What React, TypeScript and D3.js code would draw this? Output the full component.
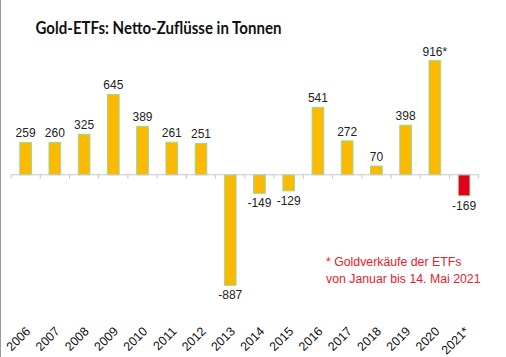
import React from "react";
import * as d3 from "d3";

const years = ["2006","2007","2008","2009","2010","2011","2012","2013","2014","2015","2016","2017","2018","2019","2020","2021*"];
const values = [259,260,325,645,389,261,251,-887,-149,-129,541,272,70,398,916,-169];
const valueLabels = ["259","260","325","645","389","261","251","-887","-149","-129","541","272","70","398","916*","-169"];
const title = "Gold-ETFs: Netto-Zuflüsse in Tonnen";
const footnote = ["* Goldverkäufe der ETFs", "von Januar bis 14. Mai 2021"];

const W = 506, H = 357;

export default function App() {
  const x = d3.scaleBand<string>().domain(years).range([11, 478.7]).paddingInner(0.6).paddingOuter(0.3);
  const y = d3.scaleLinear().domain([-887, 916]).range([285.3, 60.6]);
  const y0 = y(0);
  const boundaries = d3.range(years.length + 1).map(i => 11 + i * (467.7 / years.length));
  return (
    <svg width={W} height={H} style={{ position: "absolute", left: 0, top: 0, background: "#fff" }}>
      <line x1={0.5} x2={0.5} y1={0} y2={H} stroke="#9a9a9a" strokeWidth={1} />
      <text x={35.5} y={34} fontFamily="Lato" fontWeight="bold" fontSize={16.5} textLength={246} lengthAdjust="spacingAndGlyphs" fill="#111">{title}</text>
      {values.map((v, i) => {
        const bx = x(years[i])!;
        const top = v >= 0 ? y(v) : y0;
        const h = Math.abs(y(v) - y0);
        const red = i === values.length - 1;
        return (
          <g key={i}>
            <rect x={bx} y={top} width={x.bandwidth()} height={h} fill={red ? "#E2001A" : "#FBBA00"} stroke="#9ED89A" strokeWidth={1} />
            <text x={bx + x.bandwidth() / 2} y={v >= 0 ? y(v) - 5 : y(v) + 14} textAnchor="middle" fontFamily="Liberation Sans, Arial" fontSize={12} fill="#222">{valueLabels[i]}</text>
          </g>
        );
      })}
      <line x1={11} x2={478.7} y1={y0} y2={y0} stroke="#c8c8c8" strokeWidth={1.2} />
      {boundaries.map((bx, i) => (
        <line key={i} x1={bx} x2={bx} y1={y0} y2={y0 + 4} stroke="#c8c8c8" strokeWidth={1} />
      ))}
      {years.map((yr, i) => {
        const cx = x(yr)! + x.bandwidth() / 2;
        return (
          <text key={yr} transform={`translate(${cx + 2.5},${329}) rotate(-45)`} textAnchor="end" dy="0.35em" fontFamily="Liberation Sans, Arial" fontSize={12.5} fill="#111">{yr}</text>
        );
      })}
      {footnote.map((t, i) => (
        <text key={i} x={326} y={266 + i * 17} fontFamily="Liberation Sans, Arial" fontSize={12.3} fill="#E8202A">{t}</text>
      ))}
    </svg>
  );
}
